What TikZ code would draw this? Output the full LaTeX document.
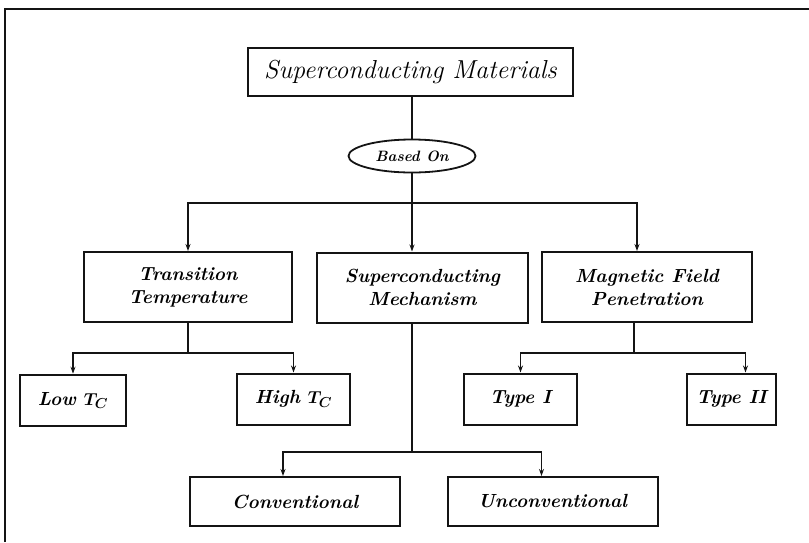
\documentclass[tikz,border=0pt]{standalone}
\usepackage{amsmath, amssymb}
\usepackage{tikz}
\usetikzlibrary{arrows.meta, shapes.geometric}
\definecolor{inkBlack}{RGB}{20, 20, 20}

\begin{document}
\begin{tikzpicture}[x=1pt, y=-1pt,
    catbox/.style={draw=inkBlack, line width=2pt, minimum width=208pt, minimum height=70pt,
      align=center, font=\fontsize{19}{23}\selectfont\bfseries\itshape},
    leafbox/.style={draw=inkBlack, line width=2pt, minimum height=51pt,
      font=\fontsize{19}{23}\selectfont\bfseries\itshape},
    link/.style={draw=inkBlack, line width=1.8pt, -{Stealth[length=7pt, width=5pt]}},
    plain/.style={draw=inkBlack, line width=1.8pt}]
    \useasboundingbox (0,0) rectangle (809,542);
    % frame
    \draw[inkBlack, line width=2.6pt] (5,542) -- (5,9) -- (809,9);

    % top
    \node[draw=inkBlack, line width=2pt, minimum width=325pt, minimum height=48pt,
      font=\fontsize{26}{30}\selectfont\itshape] (title) at (410.5,72) {Superconducting Materials};
    \node[draw=inkBlack, ellipse, line width=1.8pt, minimum width=127pt, minimum height=33pt,
      inner sep=0pt, font=\fontsize{15}{17}\selectfont\bfseries\itshape] (basis) at (412,156) {Based On};

    % categories
    \node[catbox] (trans) at (188,287) {Transition\\Temperature};
    \node[catbox, minimum width=211pt] (mech) at (422.5,287.5) {Superconducting\\Mechanism};
    \node[catbox, minimum width=210pt] (field) at (647,287) {Magnetic Field\\Penetration};

    % leaves
    \node[leafbox, minimum width=106pt, line width=2.6pt] (lowtc) at (73,400.5) {Low $\boldsymbol{T_C}$};
    \node[leafbox, minimum width=113pt] (hightc) at (293.5,399) {High $\boldsymbol{T_C}$};
    \node[leafbox, minimum width=113pt] (typeone) at (520.5,399) {Type I};
    \node[leafbox, minimum width=89pt] (typetwo) at (731.5,399) {Type II};
    \node[leafbox, minimum width=210pt, minimum height=49pt] (conv) at (295,501.5) {Conventional};
    \node[leafbox, minimum width=210pt, minimum height=49pt] (unconv) at (552.5,501.5) {Unconventional};

    % connectors
    \draw[plain] (basis.north |- title.south) -- (basis.north);
    \draw[link] (basis.south) -- ++(0,29.5) -| (trans.north);
    \draw[link] (basis.south) -- ([xshift=-10.5pt]mech.north);
    \draw[link] (basis.south) -- ++(0,29.5) -| ([xshift=-10pt]field.north);
    \draw[link] (trans.south) -- ++(0,30) -| (lowtc.north);
    \draw[link] (trans.south) -- ++(0,30) -| (hightc.north);
    \draw[link] ([xshift=-13pt]field.south) -- ++(0,30) -| (typeone.north);
    \draw[link] ([xshift=-13pt]field.south) -- ++(0,30) -| ([xshift=14pt]typetwo.north);
    \draw[link] ([xshift=-10.5pt]mech.south) -- ++(0,128.5) -| ([xshift=-12pt]conv.north);
    \draw[link] ([xshift=-10.5pt]mech.south) -- ++(0,128.5) -| ([xshift=-11pt]unconv.north);
\end{tikzpicture}
\end{document}
